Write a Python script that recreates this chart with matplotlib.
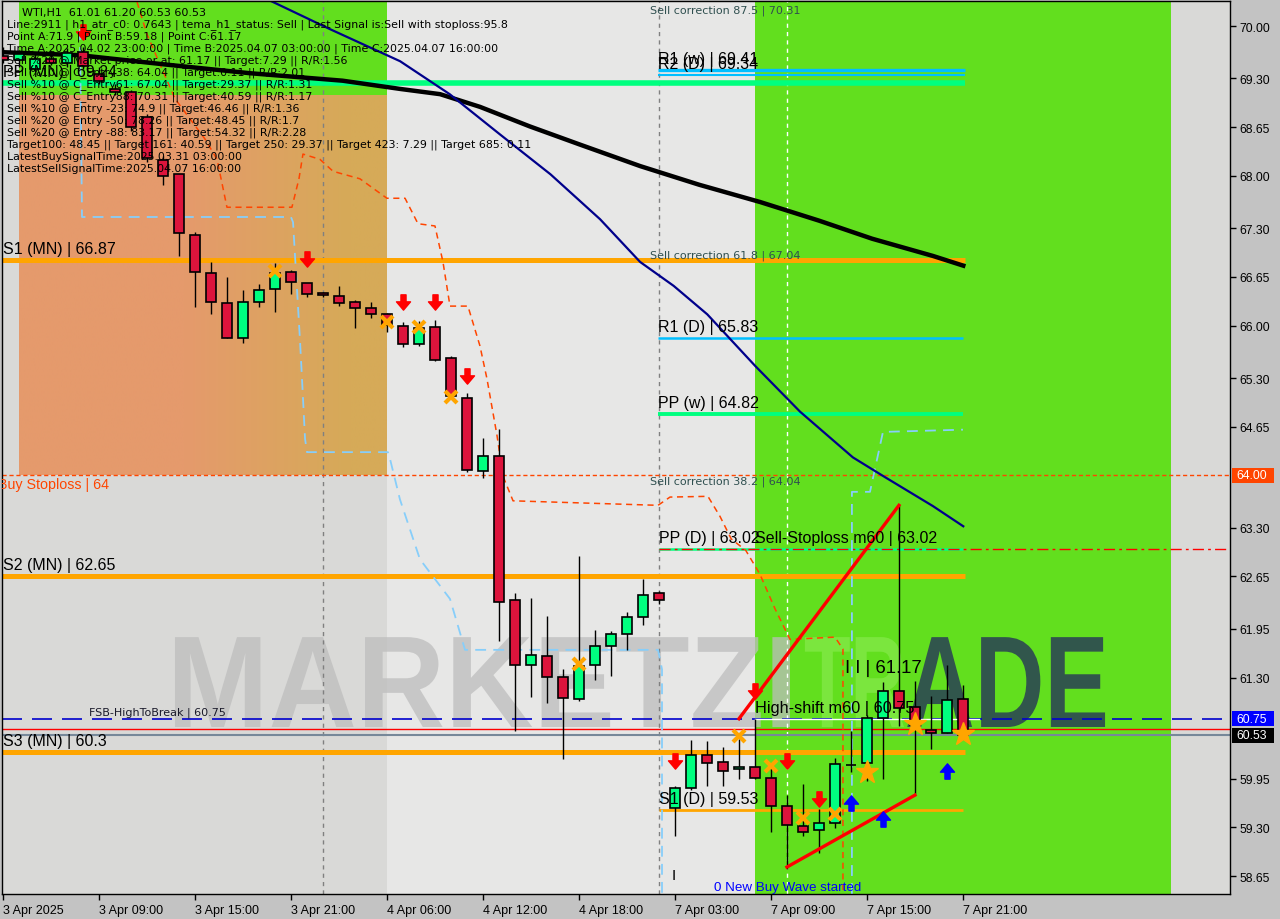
import matplotlib
matplotlib.use("Agg")
import matplotlib.pyplot as plt
import numpy as np
from matplotlib.path import Path
from matplotlib.patches import PathPatch, Rectangle
from matplotlib.textpath import TextPath
from matplotlib.font_manager import FontProperties
from matplotlib.transforms import Affine2D, blended_transform_factory

plt.rcParams['font.family'] = ['Liberation Sans', 'DejaVu Sans']

# H1 candles, bar 0 = 3 Apr 03:00
opens = [69.60, 69.55, 69.43, 69.56, 69.50, 69.65, 69.36, 69.16, 69.12, 68.78,
         68.21, 68.02, 67.21, 66.70, 66.30, 65.83, 66.31, 66.49, 66.72, 66.57,
         66.43, 66.39, 66.31, 66.23, 66.15, 65.99, 65.75, 65.98, 65.57, 65.03,
         64.06, 64.26, 62.34, 61.47, 61.59, 61.31, 61.01, 61.47, 61.72, 61.88,
         62.11, 62.43, 59.56, 59.83, 60.27, 60.17, 60.08, 60.11, 59.96, 59.58,
         59.32, 59.26, 59.36, 60.13, 60.16, 60.76, 61.12, 60.91, 60.60, 60.56,
         61.01]
highs = [69.72, 69.68, 69.62, 69.66, 69.70, 69.72, 69.45, 69.22, 69.15, 68.82,
         68.26, 68.02, 67.25, 66.85, 66.65, 66.47, 66.55, 66.84, 66.74, 66.57,
         66.45, 66.53, 66.34, 66.31, 66.17, 66.05, 66.06, 66.07, 65.60, 65.10,
         64.50, 64.62, 62.43, 62.36, 62.12, 61.41, 62.92, 61.93, 61.92, 62.18,
         62.62, 62.45, 59.85, 60.47, 60.45, 60.37, 60.48, 60.75, 60.12, 59.73,
         59.88, 59.54, 60.23, 60.59, 60.80, 61.24, 63.60, 61.25, 61.05, 61.47,
         61.20]
lows = [69.50, 69.45, 69.40, 69.48, 69.45, 69.42, 69.22, 69.08, 68.60, 68.18,
        67.88, 66.93, 66.25, 66.15, 65.83, 65.77, 66.25, 66.18, 66.42, 66.38,
        66.38, 66.26, 65.97, 66.10, 65.91, 65.71, 65.73, 65.53, 65.03, 64.04,
        63.96, 61.79, 60.59, 61.04, 60.96, 60.21, 60.99, 61.27, 61.32, 61.67,
        62.00, 62.28, 59.18, 59.80, 59.85, 59.85, 59.95, 59.95, 59.24, 58.74,
        59.18, 58.96, 59.29, 60.04, 59.92, 59.95, 60.65, 59.74, 60.35, 60.56,
        60.53]
closes = [69.55, 69.62, 69.56, 69.50, 69.64, 69.47, 69.27, 69.12, 68.65, 68.24,
          68.00, 67.24, 66.72, 66.31, 65.83, 66.31, 66.47, 66.70, 66.58, 66.42,
          66.41, 66.30, 66.23, 66.15, 66.01, 65.75, 65.97, 65.54, 65.06, 64.07,
          64.26, 62.31, 61.47, 61.60, 61.31, 61.03, 61.45, 61.72, 61.88, 62.11,
          62.40, 62.34, 59.83, 60.27, 60.16, 60.05, 60.11, 59.96, 59.58, 59.33,
          59.24, 59.36, 60.15, 60.13, 60.76, 61.12, 60.89, 60.67, 60.56, 61.00,
          60.53]

tick_bars = [0, 6, 12, 18, 24, 30, 36, 42, 48, 54, 60]
tick_labels = ['3 Apr 2025', '3 Apr 09:00', '3 Apr 15:00', '3 Apr 21:00', '4 Apr 06:00',
               '4 Apr 12:00', '4 Apr 18:00', '7 Apr 03:00', '7 Apr 09:00', '7 Apr 15:00',
               '7 Apr 21:00']
price_ticks = [70.00, 69.30, 68.65, 68.00, 67.30, 66.65, 66.00, 65.30, 64.65,
               63.30, 62.65, 61.95, 61.30, 59.95, 59.30, 58.65]

# moving averages (bar, price)
ma_slow_x = [0, 4.8, 10.4, 15.4, 21.2, 24.8, 27.3, 29.8, 32.9, 36.0, 39.8, 43.5, 47.3, 51.0, 54.3, 58.1, 60.0]
ma_slow_y = [69.65, 69.61, 69.48, 69.37, 69.27, 69.16, 69.09, 68.92, 68.66, 68.42, 68.13, 67.88, 67.65, 67.40, 67.16, 66.93, 66.80]
ma_fast_x = [14.9, 20.4, 24.8, 27.9, 31.0, 34.2, 37.3, 39.8, 41.9, 44.0, 47.0, 49.8, 53.1, 55.0, 58.1, 60.0]
ma_fast_y = [70.52, 69.96, 69.53, 69.09, 68.56, 68.02, 67.42, 66.85, 66.53, 66.15, 65.46, 64.85, 64.24, 63.99, 63.59, 63.32]

# trailing stop lines
trail_red_x = [8.36, 8.98, 10.73, 12.61, 13.36, 13.98, 18.04, 18.48, 18.73, 19.79, 20.61, 22.29, 23.98,
               25.11, 25.92, 26.98, 27.48, 27.92, 29.04, 29.79, 30.23, 30.86, 31.23, 31.86, 40.92,
               41.67, 44.04, 44.8, 45.5, 46.4, 47.29, 48.23, 49.17, 51.98, 52.48, 52.48]
trail_red_y = [70.32, 69.89, 69.03, 68.49, 68.22, 67.58, 67.58, 67.96, 68.29, 68.22, 68.06, 67.96, 67.70,
               67.70, 67.36, 67.33, 66.85, 66.26, 66.26, 65.73, 65.29, 64.53, 63.99, 63.66, 63.60,
               63.71, 63.72, 63.45, 63.15, 63.00, 62.68, 62.22, 61.81, 61.84, 61.68, 58.41]
trail_blue_x = [4.79, 4.92, 17.98, 18.11, 18.54, 18.67, 18.86, 18.98, 24.04, 24.17, 24.79, 26.04,
                27.92, 28.86, 40.92, 41.17, 41.17]
trail_blue_y = [69.96, 67.45, 67.45, 67.38, 65.82, 65.29, 64.49, 64.31, 64.31, 64.22, 63.68, 62.88,
                62.35, 61.67, 61.67, 61.41, 58.41]
trail_blue2_x = [53.04, 53.04, 54.17, 54.98, 59.98]
trail_blue2_y = [58.41, 63.78, 63.78, 64.58, 64.61]

# wave lines
wave_up_x = [45.98, 55.98]
wave_up_y = [60.75, 63.60]
wave_low_x = [48.98, 56.98]
wave_low_y = [58.77, 59.73]

# signal markers
sell_arrow_x = [4.99, 18.98, 24.98, 26.98, 28.98, 41.98, 46.98, 48.98, 50.98]
sell_arrow_y = [69.92, 66.89, 66.31, 66.31, 65.33, 60.19, 61.12, 60.19, 59.68]
buy_arrow_x = [52.98, 54.98, 58.98]
buy_arrow_y = [59.62, 59.41, 60.05]
cross_x = [16.98, 23.98, 25.98, 27.98, 35.98, 45.98, 47.98, 49.98, 51.98]
cross_y = [66.73, 66.05, 65.98, 65.05, 61.48, 60.52, 60.12, 59.42, 59.48]
star_x = [53.98, 56.98, 59.98]
star_y = [60.04, 60.68, 60.55]

# pivot levels: (label, price, start bar, end bar, colour, width)
levels = [
    ('PP (MN) | 69.24', 69.24, -1, 60.1, '#00FF7F', 4.0),
    ('R1 (w) | 69.41', 69.41, 40.9, 60.1, '#00BFFF', 2.4),
    ('R2 (D) | 69.34', 69.34, 40.9, 60.1, '#00BFFF', 1.5),
    ('S1 (MN) | 66.87', 66.87, -1, 60.1, '#FFA500', 3.6),
    ('R1 (D) | 65.83', 65.83, 40.9, 60.0, '#00BFFF', 1.8),
    ('PP (w) | 64.82', 64.82, 40.9, 60.0, '#00FF7F', 2.8),
    ('PP (D) | 63.02', 63.02, 41.0, 60.0, '#00FF7F', 1.8),
    ('S2 (MN) | 62.65', 62.65, -1, 60.1, '#FFA500', 3.6),
    ('S3 (MN) | 60.3', 60.30, -1, 60.1, '#FFA500', 3.6),
    ('S1 (D) | 59.53', 59.53, 41.0, 60.0, '#FFA500', 2.0),
]

info_lines = [
    'Line:2911 | h1_atr_c0: 0.7643 | tema_h1_status: Sell | Last Signal is:Sell with stoploss:95.8',
    'Point A:71.9 | Point B:59.18 | Point C:61.17',
    'Time A:2025.04.02 23:00:00 | Time B:2025.04.07 03:00:00 | Time C:2025.04.07 16:00:00',
    'Sell %20 @ Market price or at: 61.17 || Target:7.29 || R/R:1.56',
    'Sell %10 @ C_Entry38: 64.04 || Target:0.11 || R/R:2.01',
    'Sell %10 @ C_Entry61: 67.04 || Target:29.37 || R/R:1.31',
    'Sell %10 @ C_Entry88: 70.31 || Target:40.59 || R/R:1.17',
    'Sell %10 @ Entry -23: 74.9 || Target:46.46 || R/R:1.36',
    'Sell %20 @ Entry -50: 78.26 || Target:48.45 || R/R:1.7',
    'Sell %20 @ Entry -88: 83.17 || Target:54.32 || R/R:2.28',
    'Target100: 48.45 || Target 161: 40.59 || Target 250: 29.37 || Target 423: 7.29 || Target 685: 0.11',
    'LatestBuySignalTime:2025.03.31 03:00:00',
    'LatestSellSignalTime:2025.04.07 16:00:00',
]

SMALL = ['DejaVu Sans']

W, H = 1280, 920
fig = plt.figure(figsize=(W / 100, H / 100), dpi=100, facecolor='#c3c3c3')
ax = fig.add_axes([2 / W, 25 / H, 1228 / W, 893 / H])
ax.set_facecolor('#d9d9d7')
ax.set_xlim(-0.08, 76.67)
ax.set_ylim(58.41, 70.334)

# background zones
green = '#62df1e'
ax.add_patch(Rectangle((24, 58.0), 23, 13, fc='#e7e7e6', ec='none', zorder=0.1))
ax.add_patch(Rectangle((47, 58.0), 26, 13, fc=green, ec='none', zorder=0.2))
ax.add_patch(Rectangle((1, 69.07), 23, 2, fc=green, ec='none', zorder=0.2))
grad = np.linspace(0, 1, 200)
w = np.clip((grad - 0.45) / 0.45, 0, 1)[None, :, None]
c0 = np.array([229, 154, 108]) / 255
c1 = np.array([214, 170, 88]) / 255
img = c0 * (1 - w) + c1 * w
ax.imshow(img, extent=(1, 24, 64.0, 69.07), aspect='auto', zorder=0.2, interpolation='bilinear')

# watermark
def fit_text(s, x0, x1, y0, y1, color, alpha):
    tp = TextPath((0, 0), s, size=1, prop=FontProperties(family='Liberation Sans', weight='bold'))
    e = tp.get_extents()
    tr = Affine2D().translate(-e.x0, -e.y0).scale((x1 - x0) / e.width, (y1 - y0) / e.height).translate(x0, y0)
    ax.add_patch(PathPatch(tr.transform_path(tp), fc=color, ec='none', alpha=alpha, zorder=0.8))

fit_text('MARKETZI', 10.73, 49.17, 60.64, 61.84, '#bdbdbd', 0.75)
fit_text('TR', 50.1, 56.3, 60.64, 61.84, '#86ea4c', 0.7)
fit_text('ADE', 56.5, 68.86, 60.64, 61.84, '#2f4f4f', 0.95)

# vertical separators
for xb, col in [(20, '#808080'), (41, '#808080'), (49, 'white')]:
    ax.axvline(xb, color=col, lw=1, ls=(0, (3, 3)), zorder=1)

# level lines and labels
for lab, p, x0, x1, col, lw in levels:
    ax.plot([x0, x1], [p, p], color=col, lw=lw, solid_capstyle='butt', zorder=1.5)
    xt = 0 if x0 < 0 else x0
    ax.annotate(lab, (xt, p), xytext=(0, 3), textcoords='offset points', fontsize=11.5,
                va='bottom', ha='left', color='black', zorder=5, annotation_clip=False)

ax.axhline(64.00, color='#FF4500', lw=1, ls=(0, (3, 2)), zorder=1.6)
ax.axhline(60.75, color='#0000CD', lw=1.2, ls=(0, (12, 6)), zorder=1.6)
ax.plot([47, 61], [60.75, 60.75], color='white', lw=1, zorder=1.65)
ax.axhline(60.61, color='#FF0000', lw=1, zorder=1.6)
ax.axhline(60.53, color='#778899', lw=1.5, zorder=1.6)
ax.plot([41, 77], [63.02, 63.02], color='#FF0000', lw=1, ls=(0, (8, 3, 2, 3)), zorder=1.6)

# trailing stops, averages, waves
ax.plot(trail_red_x, trail_red_y, color='#FF4500', lw=1.1, ls=(0, (4, 3)), zorder=2)
ax.plot(trail_blue_x, trail_blue_y, color='#87CEFA', lw=1.3, ls=(0, (6, 4)), zorder=2)
ax.plot(trail_blue2_x, trail_blue2_y, color='#87CEFA', lw=1.3, ls=(0, (6, 4)), zorder=2)
ax.plot(ma_slow_x, ma_slow_y, color='black', lw=3.2, zorder=2.2)
ax.plot(ma_fast_x, ma_fast_y, color='#00008B', lw=1.6, zorder=2.2)

# candles
idx = np.arange(len(opens))
o = np.array(opens)
c = np.array(closes)
up = c >= o
ax.vlines(idx, lows, highs, color='black', lw=1, zorder=3)
ax.bar(idx, np.maximum(np.abs(c - o), 0.004), bottom=np.minimum(o, c), width=0.62,
       color=np.where(up, '#00FF7F', '#DC143C'), edgecolor='black', linewidth=1.2, zorder=3.1)

ax.plot(wave_up_x, wave_up_y, color='#FF0000', lw=2.4, zorder=3.3)
ax.plot(wave_low_x, wave_low_y, color='#FF0000', lw=2.4, zorder=3.3)

# markers
down = Path([(-0.2, 0.6), (0.2, 0.6), (0.2, 0.05), (0.55, 0.05), (0, -0.6), (-0.55, 0.05),
             (-0.2, 0.05), (-0.2, 0.6)], closed=True)
upm = Path([(x, -y) for x, y in down.vertices], closed=True)
ax.plot(sell_arrow_x, sell_arrow_y, ls='none', marker=down, ms=11, color='#FF0000', zorder=4)
ax.plot(buy_arrow_x, buy_arrow_y, ls='none', marker=upm, ms=11, color='#0000FF', zorder=4)
ax.plot(cross_x, cross_y, ls='none', marker='x', ms=8, mew=3, color='#FFA500', zorder=4)
ax.plot(star_x, star_y, ls='none', marker='*', ms=17, color='#FFA500', zorder=4)

# annotations
for yv, s in [(70.22, 'Sell correction 87.5 | 70.31'), (66.94, 'Sell correction 61.8 | 67.04'),
              (63.93, 'Sell correction 38.2 | 64.04')]:
    ax.text(40.4, yv, s, fontsize=8, color='#2f4f4f', va='center', zorder=5, family=SMALL)
ax.text(-0.3, 63.88, 'Buy Stoploss | 64', fontsize=10.3, color='#FF4500', va='center', zorder=5, clip_on=True)
ax.text(5.35, 60.85, 'FSB-HighToBreak | 60.75', fontsize=8, color='#1a1a2a', va='center', zorder=5,
        family=SMALL)
ax.annotate('Sell-Stoploss m60 | 63.02', (47, 63.02), xytext=(0, 3), textcoords='offset points',
            fontsize=11.5, va='bottom', zorder=5)
ax.annotate('High-shift m60 | 60.75', (47, 60.75), xytext=(0, 3), textcoords='offset points',
            fontsize=11.7, va='bottom', zorder=5)
ax.text(52.6, 61.43, 'I I | 61.17', fontsize=13.3, va='center', zorder=5)
ax.text(41.8, 58.66, 'I', fontsize=11, va='center', zorder=5)
ax.text(44.4, 58.43, '0 New Buy Wave started', fontsize=9.6, color='#0000FF', va='bottom', zorder=5)

# info block
fig.text(22 / W, 1 - 12.7 / H, 'WTI,H1  61.01 61.20 60.53 60.53', fontsize=8, va='center', family=SMALL)
for k, s in enumerate(info_lines):
    fig.text(7 / W, 1 - (25 + 12 * k) / H, s, fontsize=7.9, va='center', family=SMALL)

# axes
ax.yaxis.tick_right()
ax.set_yticks(price_ticks)
ax.set_yticklabels([f'{v:.2f}' for v in price_ticks], fontsize=8.7)
ax.set_xticks(tick_bars)
ax.set_xticklabels(tick_labels, fontsize=9)
plt.setp(ax.get_xticklabels(), ha='left')
ax.tick_params(length=4, width=1, color='black', pad=3)
for s in ax.spines.values():
    s.set_color('black')
    s.set_linewidth(1)

# price boxes on the right scale
bt = blended_transform_factory(ax.transAxes, ax.transData)
for p, col, txt in [(64.00, '#FF4500', '64.00'), (60.75, '#0000FF', '60.75'), (60.53, '#000000', '60.53')]:
    ax.add_patch(Rectangle((1.0015, p - 0.1), 0.0345, 0.2, transform=bt, fc=col, ec='none',
                           clip_on=False, zorder=10))
    ax.text(1.0055, p, txt, transform=bt, color='white', fontsize=8.7, va='center', zorder=11, clip_on=False)

fig.savefig('out.png', dpi=100, facecolor=fig.get_facecolor())
